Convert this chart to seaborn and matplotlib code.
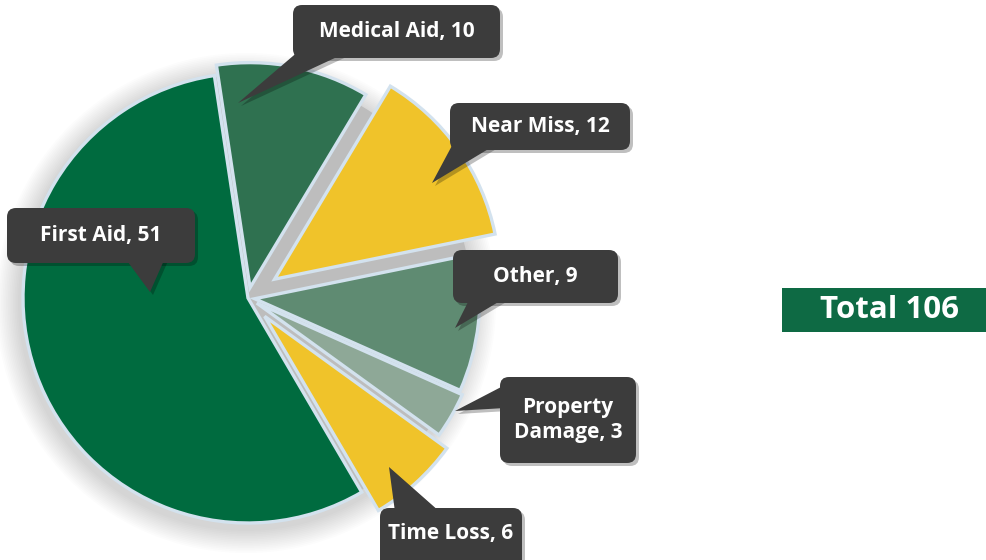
import matplotlib
matplotlib.use("Agg")
import matplotlib.pyplot as plt
import seaborn as sns
from matplotlib.patches import FancyBboxPatch, Polygon, Circle, Rectangle

# ---- data ----
categories = ["Medical Aid", "Near Miss", "Other", "Property\nDamage", "Time Loss", "First Aid"]
values = [10, 12, 9, 3, 6, 51]
colors = ["#2f7150", "#f0c32a", "#5f8b72", "#8ea897", "#f0c32a", "#006b3f"]
explode_frac = [0.047, 0.145, 0.03, 0.045, 0.11, 0.0]
total_label = "Total 106"

sns.set_theme(style="white")
plt.rcParams["font.family"] = ["Open Sans", "DejaVu Sans"]

W, H = 987, 560
fig = plt.figure(figsize=(W / 100, H / 100), dpi=100)
ax = fig.add_axes([0, 0, 1, 1])

def P(x, y):
    return (x, H - y)

cx, cy = P(248, 298)
R = 225

# soft shadow halo
for i in range(14):
    ax.add_patch(Circle((cx - 2, cy - 5), R + 3 + i * 1.7, color="black", alpha=0.012, zorder=0.2, lw=0))
# grey gap backdrop
ax.add_patch(Circle((cx, cy), R - 2, color="#bdbdbd", zorder=0.5, lw=0))

wedges, _ = ax.pie(values, colors=colors, explode=[f * R for f in explode_frac],
                   startangle=98.6, counterclock=False, radius=R, center=(cx, cy),
                   wedgeprops=dict(edgecolor="#d3e2ee", linewidth=2.4))
for w in wedges:
    w.set_zorder(1)

ax.set_xlim(0, W)
ax.set_ylim(0, H)
ax.set_aspect("auto")
ax.axis("off")

# ---- callouts ----
callouts = [
    (f"{categories[0]}, {values[0]}", (293, 5, 500, 58), [(300, 50), (352, 50), (238, 103)]),
    (f"{categories[1]}, {values[1]}", (450, 103, 630, 150), [(455, 140), (495, 145), (432, 183)]),
    (f"{categories[5]}, {values[5]}", (7, 208, 195, 263), [(125, 258), (165, 258), (150, 292)]),
    (f"{categories[2]}, {values[2]}", (453, 250, 618, 303), [(470, 298), (505, 298), (455, 328)]),
    (f"{categories[3]}, {values[3]}", (500, 377, 636, 463), [(505, 385), (505, 408), (455, 411)]),
    (f"{categories[4]}, {values[4]}", (380, 508, 522, 575), [(395, 512), (440, 512), (389, 467)]),
]

for text, (x0, y0, x1, y1), poly in callouts:
    sx, sy = 3, 3
    ax.add_patch(FancyBboxPatch(P(x0 + sx, y1 + sy), x1 - x0, y1 - y0,
                                boxstyle="round,pad=0,rounding_size=9",
                                fc="black", ec="none", alpha=0.25, zorder=4))
    ax.add_patch(Polygon([P(px + sx, py + sy) for px, py in poly], closed=True,
                         fc="black", ec="none", alpha=0.25, zorder=4))
    ax.add_patch(FancyBboxPatch(P(x0, y1), x1 - x0, y1 - y0,
                                boxstyle="round,pad=0,rounding_size=9",
                                fc="#3c3c3c", ec="none", zorder=5))
    ax.add_patch(Polygon([P(px, py) for px, py in poly], closed=True,
                         fc="#3c3c3c", ec="none", zorder=5))
    ty = (y0 + min(y1, 560)) / 2
    ax.text(*P((x0 + x1) / 2, ty), text, color="white", fontsize=15, fontweight="bold",
            ha="center", va="center", zorder=6, linespacing=1.2)

# ---- total box ----
ax.add_patch(Rectangle(P(782, 332), W - 782, 44, fc="#0e6a44", ec="none", zorder=5))
ax.text(*P(890, 310), total_label, color="white", fontsize=22.5, fontweight="bold",
        ha="center", va="center", zorder=6)

fig.savefig("out.png", dpi=100)
